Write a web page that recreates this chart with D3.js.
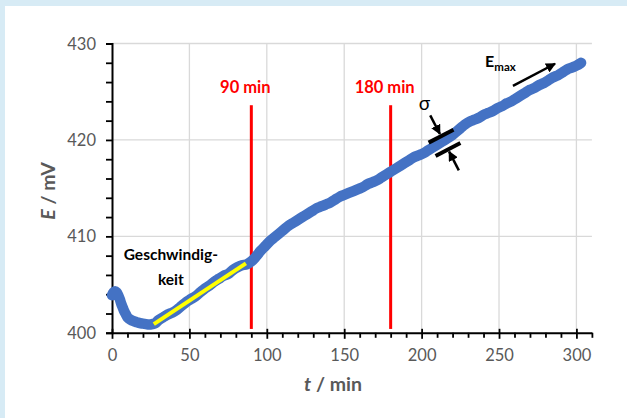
<!DOCTYPE html>
<html>
<head>
<meta charset="utf-8">
<script src="https://cdn.jsdelivr.net/npm/d3@7"></script>
<style>
  html, body { margin: 0; padding: 0; background: #d7ebf5; }
  svg { display: block; }
  text { font-family: Lato, "Open Sans", sans-serif; }
</style>
</head>
<body>
<svg id="chart" width="627" height="418"></svg>
<script>
// Potential E (mV) over time t (min)
const timeMin = [0, 1, 2, 3, 4, 5, 6, 7, 8, 9, 10, 12, 14, 16, 18, 20, 22, 24, 26, 28,
  30, 33, 36, 39, 42, 45, 48, 51, 54, 57, 60, 63, 66, 69, 72, 75, 78, 81, 84, 87,
  90, 93, 96, 99, 102, 105, 108, 111, 114, 117, 120, 123, 126, 129, 132, 135, 138, 141, 144, 147,
  150, 153, 156, 159, 162, 165, 168, 171, 174, 177, 180, 183, 186, 189, 192, 195, 198, 201, 204, 207,
  210, 213, 216, 219, 222, 225, 228, 231, 234, 237, 240, 243, 246, 249, 252, 255, 258, 261, 264, 267,
  270, 273, 276, 279, 282, 285, 288, 291, 294, 297, 300, 303];
const potentialMv = [403.9, 404.2, 404.3, 404.2, 403.9, 403.5, 403.0, 402.6, 402.2, 401.9, 401.6, 401.35, 401.2, 401.1, 401.0, 400.95, 400.9, 400.85, 400.9, 401.0,
  401.3, 401.6, 401.9, 402.1, 402.4, 402.8, 403.2, 403.5, 403.8, 404.2, 404.6, 404.9, 405.3, 405.6, 405.9, 406.1, 406.5, 406.8, 407.0, 407.1,
  407.4, 407.9, 408.5, 409.0, 409.5, 409.9, 410.3, 410.7, 411.1, 411.4, 411.7, 412.0, 412.3, 412.6, 412.9, 413.1, 413.3, 413.5, 413.8, 414.1,
  414.3, 414.5, 414.7, 414.9, 415.1, 415.4, 415.6, 415.8, 416.1, 416.4, 416.7, 417.0, 417.3, 417.6, 417.9, 418.2, 418.4, 418.6, 418.9, 419.2,
  419.5, 419.8, 420.1, 420.4, 420.8, 421.2, 421.6, 421.9, 422.1, 422.3, 422.6, 422.8, 423.0, 423.3, 423.5, 423.8, 424.0, 424.3, 424.6, 424.9,
  425.2, 425.4, 425.7, 425.9, 426.2, 426.5, 426.7, 427.0, 427.3, 427.5, 427.7, 428.0];

// Fitted rate segment (start/end)
const rateFitT = [27, 86.5];
const rateFitE = [400.9, 407.2];

// Marker times
const markerTimes = [90, 180];
const markerLabels = ["90 min", "180 min"];

// Axis ticks
const xTickValues = [0, 50, 100, 150, 200, 250, 300];
const yTickValues = [400, 410, 420, 430];

const svg = d3.select("#chart");

// white panel
svg.append("rect").attr("x", 5).attr("y", 6).attr("width", 622).attr("height", 412).attr("fill", "#ffffff");

const x = d3.scaleLinear().domain([0, 310]).range([112, 591.9]);
const y = d3.scaleLinear().domain([400, 430]).range([332.8, 43.5]);

// gridlines
const grid = svg.append("g");
grid.selectAll("line.h").data(yTickValues.filter(v => v > 400)).join("line")
  .attr("x1", x(0)).attr("x2", x(310)).attr("y1", d => y(d)).attr("y2", d => y(d))
  .attr("stroke", "#d9d9d9").attr("stroke-width", 1.3);
grid.selectAll("line.v").data(xTickValues.filter(v => v > 0)).join("line")
  .attr("x1", d => x(d)).attr("x2", d => x(d)).attr("y1", y(400)).attr("y2", y(430))
  .attr("stroke", "#d9d9d9").attr("stroke-width", 1.3);

// y axis: ticks every 2 mV, labels every 10
const yAxis = svg.append("g").attr("transform", `translate(${x(0)},0)`)
  .call(d3.axisLeft(y).tickValues(d3.range(400, 431, 2)).tickSize(6)
    .tickFormat(d => yTickValues.includes(d) ? d : ""));
yAxis.select(".domain").attr("stroke", "#000").attr("stroke-width", 2);
yAxis.selectAll(".tick line").attr("stroke", "#000").attr("stroke-width", 1.8);
yAxis.selectAll(".tick text").attr("fill", "#595959").attr("font-size", 16.5).attr("x", -16).attr("dy", "0.34em");

// x axis: minor ticks every 10 min below, major ticks crossing the axis
const xAxis = svg.append("g").attr("transform", `translate(0,${y(400)})`)
  .call(d3.axisBottom(x).tickValues(d3.range(0, 311, 10)).tickSize(5).tickSizeOuter(0)
    .tickFormat(d => xTickValues.includes(d) ? d : ""));
xAxis.select(".domain").attr("stroke", "#000").attr("stroke-width", 2);
xAxis.selectAll(".tick line").attr("stroke", "#000").attr("stroke-width", 1.8);
xAxis.selectAll(".tick").filter(d => xTickValues.includes(d)).select("line").attr("y1", -4).attr("y2", 6);
xAxis.selectAll(".tick text").attr("fill", "#595959").attr("font-size", 16.5).attr("y", 16);

// axis titles
const yTitle = svg.append("text").attr("transform", `translate(55,191) rotate(-90)`)
  .attr("text-anchor", "middle").attr("fill", "#595959").attr("font-size", 19.5).attr("font-weight", "bold");
yTitle.append("tspan").attr("font-style", "italic").text("E");
yTitle.append("tspan").text(" / mV");

const xTitle = svg.append("text").attr("x", 333).attr("y", 391)
  .attr("text-anchor", "middle").attr("fill", "#595959").attr("font-size", 19.5).attr("font-weight", "bold");
xTitle.append("tspan").attr("font-style", "italic").text("t");
xTitle.append("tspan").text(" / min");

// red time markers
svg.selectAll("line.marker").data(markerTimes).join("line")
  .attr("x1", d => x(d)).attr("x2", d => x(d)).attr("y1", y(423.6)).attr("y2", y(400.4))
  .attr("stroke", "#ff0000").attr("stroke-width", 3);
svg.selectAll("text.marker").data(markerTimes).join("text")
  .attr("x", d => x(d) - 6).attr("y", y(423.6) - 12)
  .attr("text-anchor", "middle").attr("fill", "#ff0000").attr("font-size", 16.5).attr("font-weight", "bold")
  .text((d, i) => markerLabels[i]);

// measured series
const series = timeMin.map((t, i) => [t, potentialMv[i]]);
svg.append("path").datum(series)
  .attr("d", d3.line().x(d => x(d[0])).y(d => y(d[1])).curve(d3.curveCatmullRom))
  .attr("fill", "none").attr("stroke", "#4472c4").attr("stroke-width", 10.5)
  .attr("stroke-linecap", "round").attr("stroke-linejoin", "round");

// rate fit line
svg.append("line")
  .attr("x1", x(rateFitT[0])).attr("y1", y(rateFitE[0]))
  .attr("x2", x(rateFitT[1])).attr("y2", y(rateFitE[1]))
  .attr("stroke", "#ffff00").attr("stroke-width", 4);

// "Geschwindigkeit" label
const rateLabel = svg.append("text").attr("text-anchor", "middle").attr("fill", "#000")
  .attr("font-size", 15.5).attr("font-weight", "bold");
rateLabel.append("tspan").attr("x", x(38)).attr("y", y(407.6)).text("Geschwindig-");
rateLabel.append("tspan").attr("x", x(38)).attr("y", y(405.0)).text("keit");

// arrowhead
svg.append("defs").append("marker").attr("id", "head")
  .attr("viewBox", "0 0 10 10").attr("refX", 9).attr("refY", 5)
  .attr("markerWidth", 4).attr("markerHeight", 4).attr("orient", "auto")
  .append("path").attr("d", "M0,0 L10,5 L0,10 Z").attr("fill", "#000");

// sigma: band width of the signal
const sigmaAt = [214.8, 419.7];
const cx = x(sigmaAt[0]), cy = y(sigmaAt[1]);
const dirLen = Math.hypot(25, -13);
const ux = 25 / dirLen, uy = -13 / dirLen;   // along the signal
const nx = -uy, ny = ux;                     // across the signal
[-7.5, 7.5].forEach(o => {
  svg.append("line")
    .attr("x1", cx + o * nx - 14 * ux).attr("y1", cy + o * ny - 14 * uy)
    .attr("x2", cx + o * nx + 14 * ux).attr("y2", cy + o * ny + 14 * uy)
    .attr("stroke", "#000").attr("stroke-width", 4);
});
[[-31, -10], [31, 10]].forEach(([a, b]) => {
  svg.append("line")
    .attr("x1", cx + a * nx).attr("y1", cy + a * ny)
    .attr("x2", cx + b * nx).attr("y2", cy + b * ny)
    .attr("stroke", "#000").attr("stroke-width", 2.5).attr("marker-end", "url(#head)");
});
svg.append("text").attr("x", cx - 20).attr("y", cy - 33).attr("text-anchor", "middle")
  .attr("font-size", 19).attr("fill", "#000").text("σ");

// E_max arrow
const emaxFrom = [259, 425.6], emaxTo = [286.2, 427.9];
svg.append("line")
  .attr("x1", x(emaxFrom[0])).attr("y1", y(emaxFrom[1]))
  .attr("x2", x(emaxTo[0])).attr("y2", y(emaxTo[1]))
  .attr("stroke", "#000").attr("stroke-width", 2.5).attr("marker-end", "url(#head)");
const emax = svg.append("text").attr("x", x(241)).attr("y", y(427.6)).attr("fill", "#000")
  .attr("font-weight", "bold").attr("font-size", 16);
emax.append("tspan").text("E");
emax.append("tspan").attr("font-size", 11.5).attr("dy", 4).text("max");
</script>
</body>
</html>
